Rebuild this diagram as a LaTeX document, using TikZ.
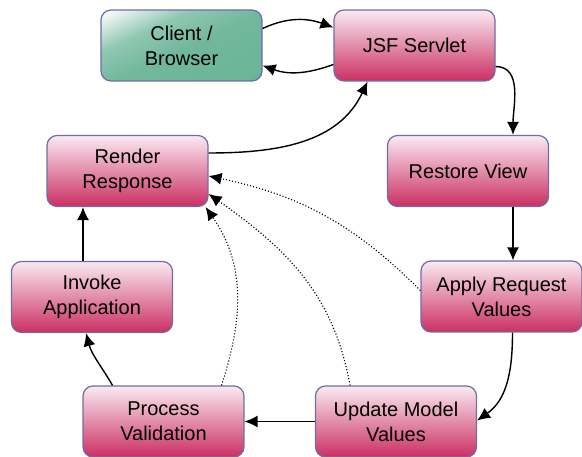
\documentclass[tikz,border=0pt]{standalone}
\usepackage{fontspec}
\setmainfont{Liberation Sans}
\usepackage{xcolor}
\usetikzlibrary{arrows.meta,positioning}
\definecolor{jsfborder}{HTML}{6E6EA6}
\definecolor{jsftop}{HTML}{FAEAF1}
\definecolor{jsfbottom}{HTML}{CB2F63}
\definecolor{clienttop}{HTML}{F2F8F6}
\definecolor{clientbottom}{HTML}{66B296}
\pgfdeclareverticalshading{clientfade}{100bp}{color(0bp)=(clientbottom); color(48bp)=(clientbottom!92!clienttop); color(64bp)=(clientbottom!70!clienttop); color(80bp)=(clienttop); color(100bp)=(clienttop)}

\begin{document}
\begin{tikzpicture}[
        x=1pt, y=1pt,
        phase/.style={
            draw=jsfborder,
            line width=1.2pt,
            rounded corners=10pt,
            minimum width=161pt,
            minimum height=71pt,
            align=center,
            top color=jsftop,
            bottom color=jsfbottom,
            font=\fontsize{20}{25}\selectfont
        },
        browser/.style={
            phase,
            shading=clientfade,
            shading angle=25
        },
        link/.style={-{Latex[length=13pt,width=12pt]},line width=1.4pt,black},
        skip/.style={-{Latex[length=13pt,width=12pt]},line width=1.1pt,black,dotted}
    ]
        \useasboundingbox (0,0) rectangle (582,457);

        \node[browser] (client) at (181.5,411.5) {Client /\\Browser};
        \node[phase] (servlet) at (414.5,411.5) {JSF Servlet};
        \node[phase] (restore) at (468,286) {Restore View};
        \node[phase] (render) at (127.5,286) {Render\\Response};
        \node[phase] (apply) at (501.5,160.5) {Apply Request\\Values};
        \node[phase] (invoke) at (92,160) {Invoke\\Application};
        \node[phase] (process) at (163.5,35.5) {Process\\Validation};
        \node[phase] (update) at (396,35.5) {Update Model\\Values};

        % request / response loop
        \draw[link] ([yshift=17pt]client.east) to[out=25,in=160] ([yshift=18pt]servlet.west);
        \draw[link] ([yshift=-19pt]servlet.west) to[out=200,in=-20] ([yshift=-20pt]client.east);
        \draw[link] ([yshift=-21pt]servlet.east) to[out=0,in=90] ([xshift=45pt]restore.north);
        \draw[link] ([xshift=45pt]restore.south) -- ([xshift=45pt]restore.south |- apply.north);
        \draw[link] ([xshift=11pt]apply.south) to[out=-90,in=35] ([yshift=1pt]update.east);
        \draw[link] (update.west) -- (process.east);
        \draw[link] ([xshift=-51pt]process.north) to[out=120,in=-75] ([xshift=-6pt]invoke.south);
        \draw[link] ([xshift=-9pt]invoke.north) -- ([xshift=-9pt]invoke.north |- render.south);
        \draw[link] ([yshift=18pt]render.east) to[out=0,in=-115] ([xshift=-47pt]servlet.south);

        % skipping to render response
        \draw[skip] ([yshift=6pt]apply.west) to[out=135,in=-12] ([yshift=-5pt]render.east);
        \draw[skip] ([xshift=-46pt]update.north) to[out=100,in=-35] ([yshift=-23pt]render.east);
        \draw[skip] ([xshift=58pt]process.north) to[out=72,in=-55] ([xshift=-3pt]render.south east);
    \end{tikzpicture}
\end{document}
